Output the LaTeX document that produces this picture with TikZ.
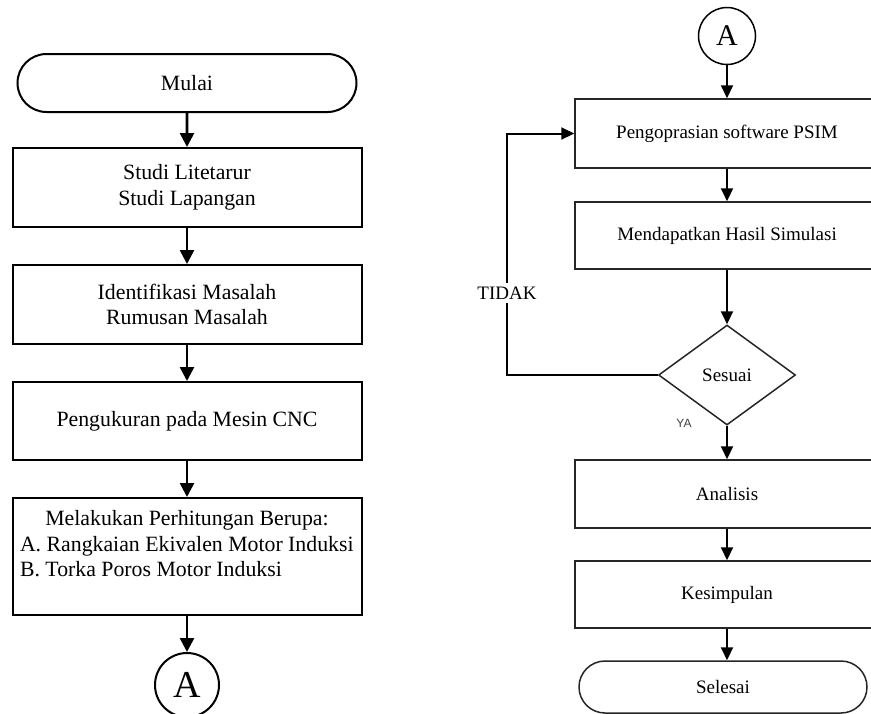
\documentclass[tikz,border=0pt]{standalone}
\usepackage{fontspec}
\setmainfont{Liberation Serif}
\setsansfont{Liberation Sans}
\usetikzlibrary{arrows.meta,shapes.geometric,shapes.misc}

\begin{document}
\begin{tikzpicture}[x=0.5pt,y=-0.5pt,
		kiri/.style={
			draw, line width=1pt, fill=white,
			minimum width=174.5pt, inner sep=2.5pt,
			font=\fontsize{10.9}{12.8}\selectfont, align=center,
		},
		kanan/.style={
			draw=black!85, line width=0.75pt, fill=white,
			minimum width=152pt, inner sep=2pt,
			font=\fontsize{9.5}{11}\selectfont, align=center,
		},
		konektor/.style={circle, draw, line width=0.75pt, inner sep=0pt},
		panahkiri/.style={line width=1.3pt, -{Triangle[length=7pt,width=7pt]}},
		panahkanan/.style={line width=1pt, -{Triangle[length=6.5pt,width=6pt]}},
	]
		\useasboundingbox (0,0) rectangle (871,713);
		\clip (0,0) rectangle (871,713);
		\def\xl{187}; \def\xr{727};

		% kolom kiri
		\node[kiri, rounded rectangle, minimum height=29pt] (mulai) at (\xl,83) {Mulai};
		\node[kiri, minimum height=39.5pt] (studi) at (\xl,187.5) {Studi Litetarur\\Studi Lapangan};
		\node[kiri, minimum height=39.5pt] (masalah) at (\xl,304.5) {Identifikasi Masalah\\Rumusan Masalah};
		\node[kiri, minimum height=39pt] (ukur) at (\xl,421) {Pengukuran pada Mesin CNC};
		\node[kiri, minimum height=58.5pt, align=left] (hitung) at (\xl,556.5)
			{\makebox[167pt]{Melakukan Perhitungan Berupa:}\\A. Rangkaian Ekivalen Motor Induksi\\B. Torka Poros Motor Induksi\\ \mbox{}};
		\node[konektor, line width=1pt, minimum size=32pt, font=\fontsize{19}{19}\selectfont] (a1) at (\xl,685) {A};

		\draw[panahkiri] (mulai) -- (studi);
		\draw[panahkiri] (studi) -- (masalah);
		\draw[panahkiri] (masalah) -- (ukur);
		\draw[panahkiri] (ukur) -- (hitung);
		\draw[panahkiri] (hitung) -- (a1);

		% kolom kanan
		\node[konektor, minimum size=28.5pt, font=\fontsize{15}{15}\selectfont] (a2) at (\xr,36) {A};
		\node[kanan, minimum height=34.5pt] (psim) at (\xr,133.5) {Pengoprasian software PSIM};
		\node[kanan, minimum height=33.5pt] (hasil) at (\xr,235.5) {Mendapatkan Hasil Simulasi};
		\node[kanan, diamond, aspect=1.37, inner sep=0pt, minimum width=68.5pt, minimum height=50pt] (sesuai) at (\xr,375) {Sesuai};
		\node[kanan, minimum height=34pt] (analisis) at (\xr,494) {Analisis};
		\node[kanan, minimum height=33.5pt] (simpul) at (\xr,594.5) {Kesimpulan};
		\node[kanan, rounded rectangle, minimum width=148pt, minimum height=26pt] (selesai) at (723,687) {Selesai};
		\node[font=\sffamily\fontsize{6}{6}\selectfont, text=black!75] (ya) at (684,423) {YA};

		\draw[panahkanan] (a2) -- (psim);
		\draw[panahkanan] (psim) -- (hasil);
		\draw[panahkanan] (hasil) -- (sesuai);
		\draw[panahkanan] (sesuai) -- (analisis);
		\draw[panahkanan] (analisis) -- (simpul);
		\draw[panahkanan] (simpul.south) -- (simpul.south |- selesai.north);

		% kembali bila tidak sesuai
		\coordinate (belok) at (507,375);
		\draw[panahkanan] (sesuai.west) -- (belok) |- node[pos=0.17, fill=white, inner sep=2pt,
			font=\fontsize{9.5}{11}\selectfont] (tidak) {TIDAK} (psim.west);

	\end{tikzpicture}
\end{document}
